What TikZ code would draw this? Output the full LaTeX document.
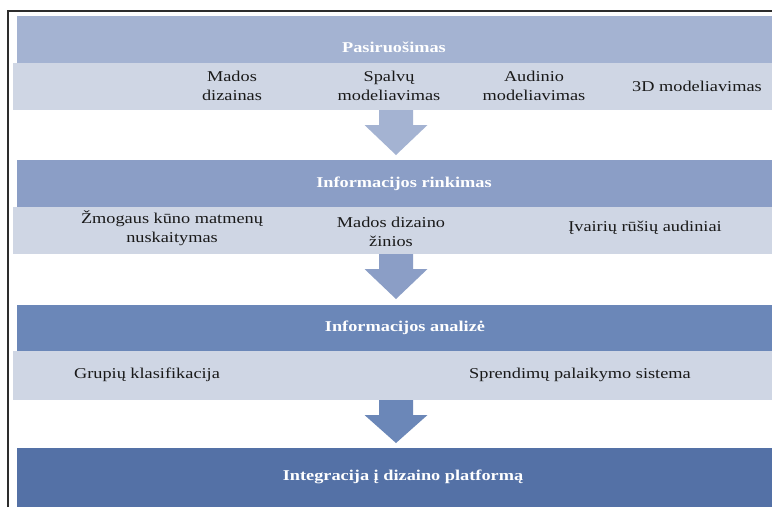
\documentclass[tikz,border=0pt]{standalone}
\usepackage{fontspec}
\setmainfont{Liberation Serif}[FakeStretch=1.22]
\usetikzlibrary{calc}

\definecolor{bandA}{RGB}{164,179,210}
\definecolor{bandB}{RGB}{139,158,198}
\definecolor{bandC}{RGB}{107,135,184}
\definecolor{bandD}{RGB}{84,113,166}
\definecolor{subrow}{RGB}{207,214,228}
\definecolor{frameline}{RGB}{45,45,45}
\definecolor{bodytext}{RGB}{25,25,25}

\tikzset{
  band/.style={draw=none, inner sep=0pt, anchor=north west,
    minimum width=755pt, minimum height=47pt},
  subband/.style={draw=none, fill=subrow, inner sep=0pt, anchor=north west,
    minimum width=759pt, minimum height=47pt},
  title/.style={text=white, font=\fontsize{15}{18}\selectfont\bfseries,
    inner sep=0pt, align=center},
  item/.style={text=bodytext, font=\fontsize{15}{18.5}\selectfont,
    inner sep=0pt, align=center},
}

% block arrow pointing down from #1 (shaft top) to #2 (tip), filled with #3
\newcommand\downblock[3]{%
  \fill[#3] let \p1=(#1), \p2=(#2) in
    (\x1-17pt,\y1) -- (\x1+17pt,\y1) -- (\x1+17pt,\y1-15pt)
    -- (\x1+31.5pt,\y1-15pt) -- (\x1,\y2) -- (\x1-31.5pt,\y1-15pt)
    -- (\x1-17pt,\y1-15pt) -- cycle;}

\begin{document}
\begin{tikzpicture}[x=1pt,y=-1pt]
\useasboundingbox (0,0) rectangle (772,507);
\fill[white] (0,0) rectangle (772,507);

% stage bands and their detail rows
\node[band, fill=bandA] (b1) at (17,16) {};
\node[subband] (s1) at (13,63) {};
\node[band, fill=bandB] (b2) at (17,160) {};
\node[subband] (s2) at (13,207) {};
\node[band, fill=bandC] (b3) at (17,305) {};
\node[subband, minimum height=49pt] (s3) at (13,351) {};
\node[band, fill=bandD, minimum height=59pt] (b4) at (17,448) {};

% outer frame (top and left edges)
\draw[frameline, line width=1.3pt] (8,507) -- (8,11) -- (772,11);

% arrows between stages
\coordinate (a1top) at (396,110); \coordinate (a1tip) at (396,155);
\coordinate (a2top) at (396,254); \coordinate (a2tip) at (396,299);
\coordinate (a3top) at (396,400); \coordinate (a3tip) at (396,443);
\downblock{a1top}{a1tip}{bandA}
\downblock{a2top}{a2tip}{bandB}
\downblock{a3top}{a3tip}{bandC}

% stage titles
\node[title] (t1) at (394,47) {Pasiruošimas};
\node[title] (t2) at (404,184) {Informacijos rinkimas};
\node[title] (t3) at (405,328) {Informacijos analizė};
\node[title] (t4) at (403,477) {Integracija į dizaino platformą};

% stage details
\node[item] (i11) at (232,86) {Mados\\dizainas};
\node[item] (i12) at (389,86) {Spalvų\\modeliavimas};
\node[item] (i13) at (534,86) {Audinio\\modeliavimas};
\node[item] (i14) at (697,86) {3D modeliavimas};

\node[item] (i21) at (172,228) {Žmogaus kūno matmenų\\nuskaitymas};
\node[item] (i22) at (391,232) {Mados dizaino\\žinios};
\node[item] (i23) at (645,228) {Įvairių rūšių audiniai};

\node[item] (i31) at (147,375) {Grupių klasifikacija};
\node[item] (i32) at (580,375) {Sprendimų palaikymo sistema};
\end{tikzpicture}
\end{document}
